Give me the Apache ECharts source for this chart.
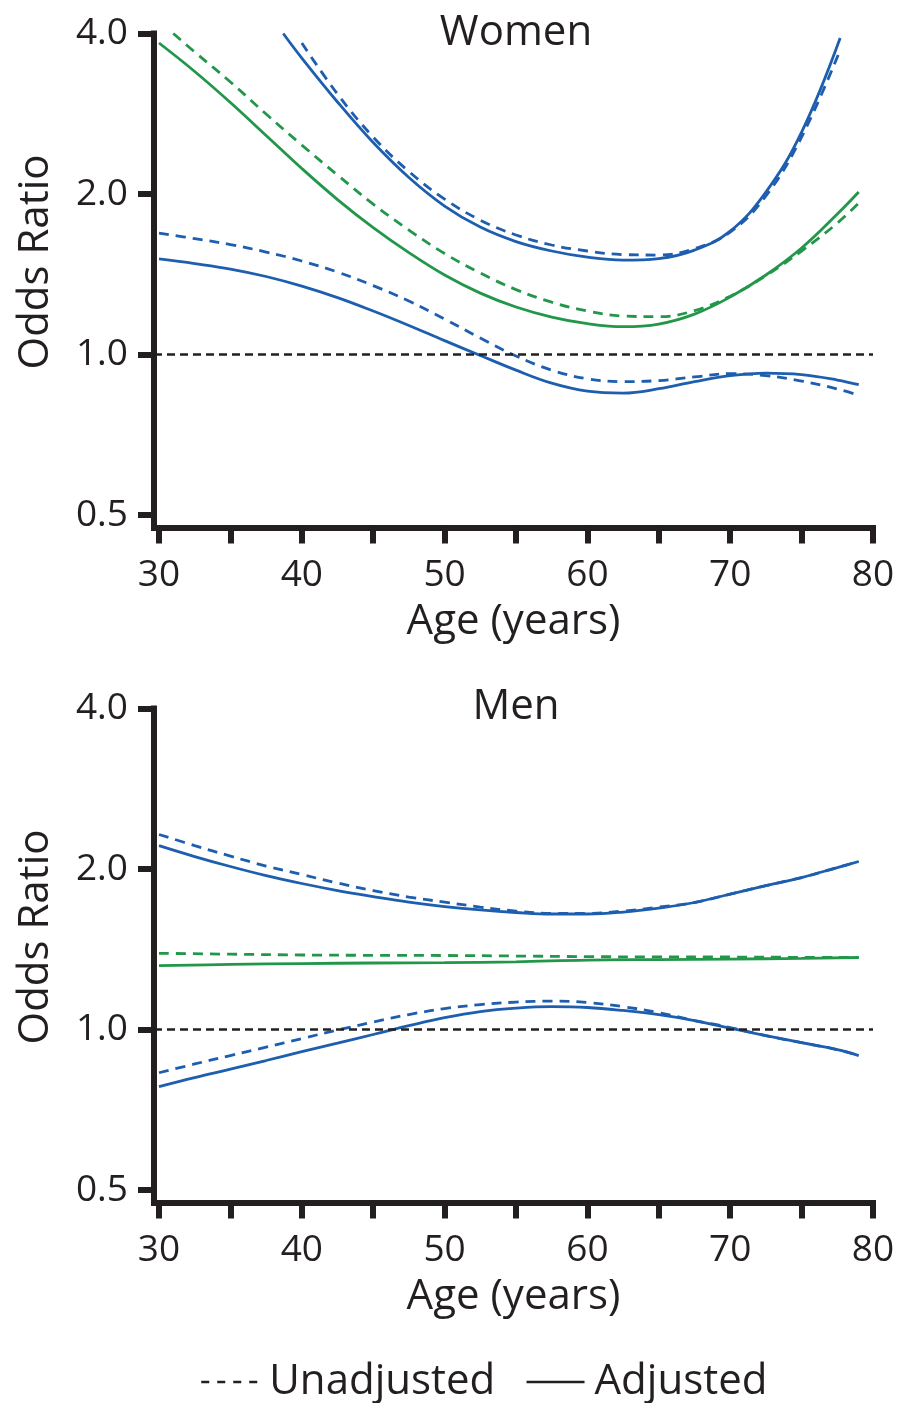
<!DOCTYPE html>
<html>
<head>
<meta charset="utf-8">
<title>Odds ratio by age</title>
<script src="https://cdn.jsdelivr.net/npm/echarts@6/dist/echarts.min.js"></script>
<style>
  html, body { margin: 0; padding: 0; background: #fff; }
  #chart { width: 899px; height: 1403px; }
</style>
</head>
<body>
<div id="chart"></div>
<script>
// ---- data (odds ratios) ----
const ageTicks = [30, 35, 40, 45, 50, 55, 60, 65, 70, 75, 80]
const ageLabels = [30, 40, 50, 60, 70, 80]
const orTicks = [0.5, 1, 2, 4]

// Women: estimate (green) and 95% CI bounds (blue)
const womenAges = [30, 32.5, 35, 37.5, 40, 42.5, 45, 47.5, 50, 52.5, 55, 57.5, 60, 62.5, 65, 67.5, 70, 72.5, 75, 77.5, 79]
const womenOrAdj = [3.839, 3.395, 2.969, 2.575, 2.233, 1.953, 1.730, 1.553, 1.410, 1.304, 1.228, 1.176, 1.143, 1.128, 1.141, 1.191, 1.282, 1.410, 1.584, 1.834, 2.017]
const womenLowAdj = [1.511, 1.481, 1.447, 1.401, 1.344, 1.279, 1.207, 1.134, 1.062, 0.996, 0.935, 0.884, 0.854, 0.847, 0.863, 0.890, 0.913, 0.923, 0.917, 0.896, 0.878]
const womenLowUnadj = [1.690, 1.650, 1.608, 1.557, 1.498, 1.428, 1.347, 1.260, 1.166, 1.074, 0.994, 0.935, 0.901, 0.890, 0.894, 0.908, 0.921, 0.913, 0.892, 0.862, 0.839]

const womenOrUnadjAges = [31, 32.5, 35, 37.5, 40, 42.5, 45, 47.5, 50, 52.5, 55, 57.5, 60, 62.5, 65, 67.5, 70, 72.5, 75, 77.5, 79]
const womenOrUnadj = [4.0, 3.693, 3.245, 2.825, 2.471, 2.171, 1.915, 1.712, 1.547, 1.422, 1.324, 1.254, 1.207, 1.181, 1.178, 1.209, 1.287, 1.406, 1.564, 1.764, 1.924]

const womenHighAdjAges = [38.7, 40, 42.5, 45, 47.5, 50, 52.5, 55, 57.5, 60, 62.5, 65, 67.5, 70, 72.5, 75, 77.7]
const womenHighAdj = [4.0, 3.598, 2.976, 2.498, 2.148, 1.899, 1.734, 1.629, 1.564, 1.523, 1.504, 1.514, 1.570, 1.704, 2.017, 2.613, 3.922]
const womenHighUnadjAges = [40, 42.5, 45, 47.5, 50, 52.5, 55, 57.5, 60, 62.5, 65, 67.5, 70, 72.5, 75, 77.7]
const womenHighUnadj = [3.839, 3.080, 2.558, 2.204, 1.957, 1.787, 1.676, 1.605, 1.564, 1.540, 1.537, 1.580, 1.697, 1.983, 2.558, 3.725]

// Men
const menOrAges = [30, 35, 40, 45, 50, 55, 60, 65, 70, 75, 79]
const menOrAdj = [1.318, 1.325, 1.33, 1.333, 1.335, 1.34, 1.35, 1.353, 1.356, 1.36, 1.365]
const menOrUnadj = [1.39, 1.385, 1.38, 1.378, 1.377, 1.374, 1.37, 1.369, 1.368, 1.366, 1.365]

const menAges = [30, 32.5, 35, 37.5, 40, 42.5, 45, 47.5, 50, 52.5, 55, 57.5, 60, 62.5, 65, 67.5, 70, 72.5, 75, 77.5, 79]
const menLowAdj = [0.782, 0.813, 0.843, 0.875, 0.909, 0.943, 0.979, 1.017, 1.053, 1.081, 1.097, 1.104, 1.100, 1.086, 1.067, 1.040, 1.006, 0.974, 0.945, 0.917, 0.894]
const menLowUnadj = [0.830, 0.862, 0.894, 0.927, 0.962, 0.998, 1.033, 1.067, 1.095, 1.114, 1.126, 1.131, 1.124, 1.104, 1.076, 1.040, 1.009, 0.974, 0.945, 0.917, 0.894]
const menHighAdj = [2.213, 2.111, 2.022, 1.944, 1.879, 1.823, 1.776, 1.734, 1.701, 1.676, 1.658, 1.647, 1.647, 1.661, 1.690, 1.731, 1.795, 1.862, 1.928, 2.013, 2.066]
const menHighUnadj = [2.322, 2.213, 2.115, 2.026, 1.953, 1.883, 1.823, 1.772, 1.734, 1.697, 1.668, 1.651, 1.651, 1.668, 1.697, 1.731, 1.795, 1.862, 1.928, 2.013, 2.066]

// ---- style ----
const ink = '#231f20'
const blue = '#1d5eae'
const green = '#22974a'
const font = "'Open Sans', 'Noto Sans', sans-serif"
const dash = [10, 7]

function curve(name, ages, values, color, dashed, idx) {
  return {
    name: name,
    type: 'line',
    xAxisIndex: idx,
    yAxisIndex: idx,
    data: ages.map((a, i) => [a, values[i]]),
    smooth: 0.4,
    symbol: 'none',
    silent: true,
    lineStyle: { color: color, width: 2.8, type: dashed ? dash : 'solid' },
    itemStyle: { color: color }
  }
}

// dashed line at OR = 1
function refLine(idx) {
  return {
    name: 'ref',
    type: 'line',
    xAxisIndex: idx,
    yAxisIndex: idx,
    data: [],
    silent: true,
    markLine: {
      symbol: 'none',
      silent: true,
      label: { show: false },
      lineStyle: { color: ink, width: 2.5, type: [8, 5] },
      data: [{ yAxis: 1 }]
    }
  }
}

function ageAxis(idx) {
  return {
    type: 'value',
    gridIndex: idx,
    min: 29.65,
    max: 80,
    name: 'Age (years)',
    nameLocation: 'middle',
    nameGap: 74,
    nameTextStyle: { fontSize: 42, color: ink, fontFamily: font },
    axisLine: { onZero: false, lineStyle: { color: ink, width: 6, cap: 'square' } },
    axisTick: { length: 16, lineStyle: { color: ink, width: 6 }, customValues: ageTicks },
    axisLabel: { margin: 29, fontSize: 37, color: ink, fontFamily: font, customValues: ageLabels },
    splitLine: { show: false }
  }
}

function oddsAxis(idx) {
  return {
    type: 'log',
    logBase: 2,
    gridIndex: idx,
    min: 0.474, // axis runs a little below 0.5 down to the age axis
    max: 4,
    name: 'Odds Ratio',
    nameLocation: 'middle',
    nameGap: 97,
    nameTextStyle: { fontSize: 42, color: ink, fontFamily: font, padding: [0, 0, 0, 37] },
    axisLine: { show: true, lineStyle: { color: ink, width: 6, cap: 'square' } },
    axisTick: { show: true, length: 16, lineStyle: { color: ink, width: 6 }, customValues: orTicks },
    axisLabel: {
      margin: 26,
      fontSize: 37,
      color: ink,
      fontFamily: font,
      customValues: orTicks,
      formatter: v => Number(v).toFixed(1)
    },
    splitLine: { show: false }
  }
}

const chart = echarts.init(document.getElementById('chart'), null, { renderer: 'canvas' })

chart.setOption({
  backgroundColor: '#fff',
  animation: false,
  title: [
    { text: 'Women', left: 516, top: 12, textAlign: 'center', padding: 0,
      textStyle: { fontSize: 42, fontWeight: 'normal', color: ink, fontFamily: font } },
    { text: 'Men', left: 516, top: 686, textAlign: 'center', padding: 0,
      textStyle: { fontSize: 42, fontWeight: 'normal', color: ink, fontFamily: font } }
  ],
  legend: {
    left: 200,
    top: 1361,
    padding: 0,
    itemWidth: 58,
    itemHeight: 14,
    itemGap: 30,
    selectedMode: false,
    textStyle: { fontSize: 42, color: ink, fontFamily: font, padding: [0, 0, 0, 5] },
    data: [
      { name: 'Unadjusted', itemStyle: { opacity: 0 }, lineStyle: { color: ink, width: 2.5, type: [8, 8] } },
      { name: 'Adjusted', itemStyle: { opacity: 0 }, lineStyle: { color: ink, width: 2.5, type: 'solid' } }
    ]
  },
  grid: [
    { left: 154, top: 33.5, width: 719, height: 494 },
    { left: 154, top: 708.5, width: 719, height: 494 }
  ],
  xAxis: [ageAxis(0), ageAxis(1)],
  yAxis: [oddsAxis(0), oddsAxis(1)],
  series: [
    refLine(0),
    curve('Adjusted', womenAges, womenOrAdj, green, false, 0),
    curve('Unadjusted', womenOrUnadjAges, womenOrUnadj, green, true, 0),
    curve('Adjusted', womenAges, womenLowAdj, blue, false, 0),
    curve('Unadjusted', womenAges, womenLowUnadj, blue, true, 0),
    curve('Adjusted', womenHighAdjAges, womenHighAdj, blue, false, 0),
    curve('Unadjusted', womenHighUnadjAges, womenHighUnadj, blue, true, 0),
    refLine(1),
    curve('Adjusted', menOrAges, menOrAdj, green, false, 1),
    curve('Unadjusted', menOrAges, menOrUnadj, green, true, 1),
    curve('Adjusted', menAges, menLowAdj, blue, false, 1),
    curve('Unadjusted', menAges, menLowUnadj, blue, true, 1),
    curve('Adjusted', menAges, menHighAdj, blue, false, 1),
    curve('Unadjusted', menAges, menHighUnadj, blue, true, 1)
  ]
})

window.addEventListener('resize', () => chart.resize())
</script>
</body>
</html>
